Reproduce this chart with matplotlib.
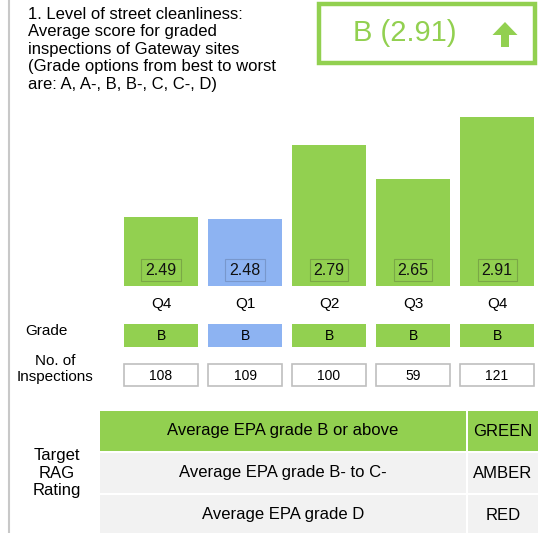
import numpy as np
import matplotlib
matplotlib.use("Agg")
import matplotlib.pyplot as plt
import matplotlib.transforms as mtransforms
from matplotlib.patches import Rectangle, FancyArrow

plt.rcParams['font.family'] = ['Liberation Sans', 'DejaVu Sans']

# data
quarters = ['Q4', 'Q1', 'Q2', 'Q3', 'Q4']
scores = [2.49, 2.48, 2.79, 2.65, 2.91]
grades = ['B', 'B', 'B', 'B', 'B']
inspections = [108, 109, 100, 59, 121]
is_current_year = [True, False, True, True, True]
headline = 'B (2.91)'
title = ('1. Level of street cleanliness:\nAverage score for graded\n'
         'inspections of Gateway sites\n(Grade options from best to worst\n'
         'are: A, A-, B, B-, C, C-, D)')
rag_labels = ['Average EPA grade B or above', 'Average EPA grade B- to C-',
              'Average EPA grade D']
rag_names = ['GREEN', 'AMBER', 'RED']

GREEN = '#92D050'
BLUE = '#8DB3F2'
colors = [GREEN if c else BLUE for c in is_current_year]

W, H = 538, 533
fig = plt.figure(figsize=(W / 100, H / 100), dpi=100)

# overlay axes in pixel coords
ov = fig.add_axes([0, 0, 1, 1])
ov.set_xlim(0, W)
ov.set_ylim(H, 0)
ov.axis('off')

# bar axes
x0, x1, ytop, ybot = 119, 538, 100, 286
ax = fig.add_axes([x0 / W, (H - ybot) / H, (x1 - x0) / W, (ybot - ytop) / H])
x = np.arange(len(scores))
ax.bar(x, scores, width=0.87, color=colors, edgecolor='none')
ax.set_xlim(-0.5, 4.488)
ax.set_ylim(2.2, 2.9796)
ax.axis('off')
for xi, v, c in zip(x, scores, colors):
    ax.text(xi, 2.2 + 16 / 238.6, f'{v:.2f}', ha='center', va='center',
            fontsize=11.5, color='#111111',
            bbox=dict(boxstyle='square,pad=0.25', fc=c,
                      ec='#7aa846' if c == GREEN else '#7897cc', lw=0.8))

# mixed transform: x from bar axes data, y in overlay pixels
tr = mtransforms.blended_transform_factory(ax.transData, ov.transData)
bw = 0.88
for xi, q, g, n, c in zip(x, quarters, grades, inspections, colors):
    ov.text(xi, 304, q, transform=tr, ha='center', va='center', fontsize=11)
    ov.add_patch(Rectangle((xi - bw / 2, 324), bw, 23, transform=tr,
                           fc=c, ec='none'))
    ov.text(xi, 336, g, transform=tr, ha='center', va='center', fontsize=10)
    ov.add_patch(Rectangle((xi - bw / 2, 364), bw, 22, transform=tr,
                           fc='white', ec='#BFBFBF', lw=1.2))
    ov.text(xi, 375.5, str(n), transform=tr, ha='center', va='center', fontsize=10)

# left border line
ov.plot([9, 9], [0, H], color='#C8C8C8', lw=1.5)

# title
ov.text(28, 7, title, ha='left', va='top', fontsize=12, linespacing=1.2)

# headline box
ov.add_patch(Rectangle((319, 4), 216, 59, fc='white', ec=GREEN, lw=3.2))
ov.text(405, 33, headline, ha='center', va='center', fontsize=21, color=GREEN)
ov.add_patch(FancyArrow(505, 47, 0, -25, width=8, head_width=25,
                        head_length=13, length_includes_head=True,
                        fc=GREEN, ec='none'))

# row labels
ov.text(46, 331, 'Grade', ha='center', va='center', fontsize=11)
ov.text(55, 369, 'No. of\nInspections', ha='center', va='center', fontsize=11,
        linespacing=1.25)

# RAG table
row_top = [411, 453, 495]
row_h = 40
fills = [GREEN, '#F2F2F2', '#F2F2F2']
for rt, lab, name, fc in zip(row_top, rag_labels, rag_names, fills):
    ov.add_patch(Rectangle((100, rt), 366, row_h, fc=fc, ec='none'))
    ov.add_patch(Rectangle((468, rt), 72, row_h, fc=fc, ec='none'))
    ov.text(283, rt + row_h / 2, lab, ha='center', va='center', fontsize=12)
    ov.text(503, rt + row_h / 2, name, ha='center', va='center', fontsize=12)
ov.text(57, 473, 'Target\nRAG\nRating', ha='center', va='center', fontsize=12,
        linespacing=1.2)

fig.savefig('out.png', dpi=100)
